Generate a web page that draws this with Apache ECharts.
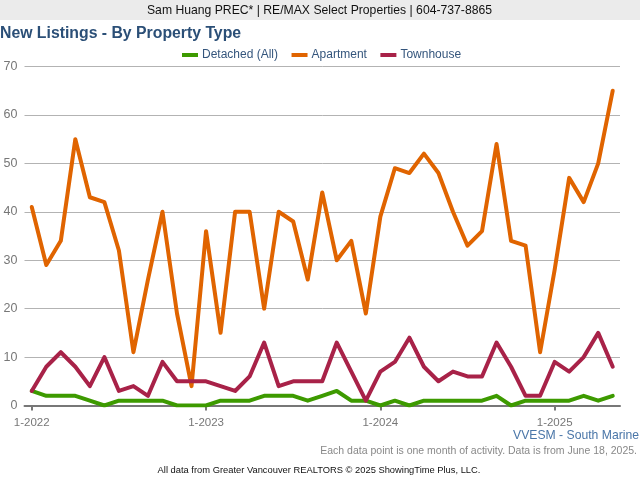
<!DOCTYPE html>
<html>
<head>
<meta charset="utf-8">
<style>
html, body { margin: 0; padding: 0; background: #fff; }
#chart { width: 640px; height: 480px; }
</style>
<script src="https://cdn.jsdelivr.net/npm/echarts@6/dist/echarts.min.js"></script>
</head>
<body>
<div id="chart"></div>
<script>
var years = ['2022', '2023', '2024', '2025'];
var monthsInLastYear = 5;
var detached = [3, 2, 2, 2, 1, 0, 1, 1, 1, 1, 0, 0, 0, 1, 1, 1, 2, 2, 2, 1, 2, 3, 1, 1, 0, 1, 0, 1, 1, 1, 1, 1, 2, 0, 1, 1, 1, 1, 2, 1, 2];
var apartment = [41, 29, 34, 55, 43, 42, 32, 11, 26, 40, 19, 4, 36, 15, 40, 40, 20, 40, 38, 26, 44, 30, 34, 19, 39, 49, 48, 52, 48, 40, 33, 36, 54, 34, 33, 11, 28, 47, 42, 50, 65];
var townhouse = [3, 8, 11, 8, 4, 10, 3, 4, 2, 9, 5, 5, 5, 4, 3, 6, 13, 4, 5, 5, 5, 13, 7, 1, 7, 9, 14, 8, 5, 7, 6, 6, 13, 8, 2, 2, 9, 7, 10, 15, 8];

var categories = [];
years.forEach(function (y, i) {
    var n = i === years.length - 1 ? monthsInLastYear : 12;
    for (var m = 1; m <= n; m++) categories.push(m + '-' + y);
});

// only January gets a tick and a label
function isJanuaryTick(index) {
    return index % 12 === 0;
}

var font = '"Liberation Sans", Arial, sans-serif';
var myChart = echarts.init(document.getElementById('chart'));

function lineSeries(name, data, color) {
    return {
        name: name,
        type: 'line',
        data: data,
        showSymbol: false,
        symbol: 'none',
        lineStyle: { width: 4, color: color, cap: 'round', join: 'round' },
        itemStyle: { color: color },
        animation: false
    };
}

var option = {
    animation: false,
    textStyle: { fontFamily: font },
    graphic: [
        { type: 'rect', z: -1, shape: { x: 0, y: 0, width: 640, height: 20 }, style: { fill: '#ebebeb' } }
    ],
    title: [
        { text: 'Sam Huang PREC* | RE/MAX Select Properties | 604-737-8865', left: 319.5, top: 4.5, textAlign: 'center', padding: 0,
          textStyle: { fontFamily: font, fontSize: 12.2, fontWeight: 'normal', color: '#111' } },
        { text: 'New Listings - By Property Type', left: 0, top: 26, padding: 0,
          textStyle: { fontFamily: font, fontSize: 15.8, fontWeight: 'bold', color: '#2b4f77' } },
        { text: 'VVESM - South Marine', right: 1, top: 429.5, padding: 0,
          textStyle: { fontFamily: font, fontSize: 12.2, fontWeight: 'normal', color: '#4a76a8' } },
        { text: 'Each data point is one month of activity. Data is from June 18, 2025.', right: 3, top: 446, padding: 0,
          textStyle: { fontFamily: font, fontSize: 10.5, fontWeight: 'normal', color: '#888' } },
        { text: 'All data from Greater Vancouver REALTORS \u00a9 2025 ShowingTime Plus, LLC.', left: 319, top: 465.5, textAlign: 'center', padding: 0,
          textStyle: { fontFamily: font, fontSize: 9.35, fontWeight: 'normal', color: '#111' } }
    ],
    legend: {
        top: 49,
        left: 182,
        padding: 0,
        icon: 'rect',
        itemWidth: 16,
        itemHeight: 4,
        itemGap: 13.5,
        textStyle: { fontFamily: font, fontSize: 12, color: '#34557c', padding: [0, 0, 0, -1] },
        data: ['Detached (All)', 'Apartment', 'Townhouse']
    },
    grid: { left: 24.5, right: 20, top: 66.5, bottom: 74.5 },
    xAxis: {
        type: 'category',
        data: categories,
        boundaryGap: true,
        axisLine: { lineStyle: { color: '#777', width: 2 } },
        axisTick: { show: true, alignWithLabel: true, interval: isJanuaryTick, length: 5, lineStyle: { color: '#777', width: 2 } },
        axisLabel: { interval: isJanuaryTick, color: '#777', fontSize: 11.5, fontFamily: font, margin: 11, hideOverlap: false }
    },
    yAxis: {
        type: 'value',
        min: 0,
        max: 70,
        interval: 10,
        axisLine: { show: false },
        axisTick: { show: false },
        axisLabel: { color: '#777', fontSize: 12.5, fontFamily: font, margin: 7, padding: [2, 0, 0, 0] },
        splitLine: { lineStyle: { color: '#b3b3b3', width: 1 } }
    },
    series: [
        lineSeries('Detached (All)', detached, '#3d9a00'),
        lineSeries('Apartment', apartment, '#e06400'),
        lineSeries('Townhouse', townhouse, '#a82248')
    ]
};

myChart.setOption(option);
</script>
</body>
</html>
